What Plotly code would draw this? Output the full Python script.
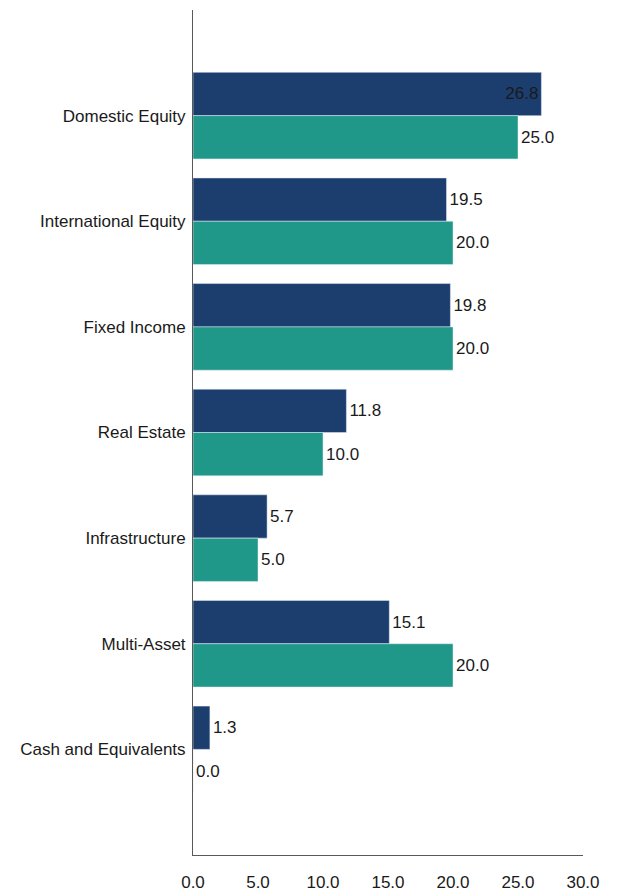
import plotly.graph_objects as go

categories = ["Domestic Equity", "International Equity", "Fixed Income", "Real Estate",
              "Infrastructure", "Multi-Asset", "Cash and Equivalents"]
actual = [26.8, 19.5, 19.8, 11.8, 5.7, 15.1, 1.3]
target = [25.0, 20.0, 20.0, 10.0, 5.0, 20.0, 0.0]
tick_vals = [0, 5, 10, 15, 20, 25, 30]
tick_text = ["0.0", "5.0", "10.0", "15.0", "20.0", "25.0", "30.0"]

navy = "#1B3E6F"
teal = "#1F988A"
font = "Liberation Sans, Arial, sans-serif"
fs = 17

fig = go.Figure()
fig.add_trace(go.Bar(
    y=categories, x=actual, orientation="h", marker_color=navy,
    text=[f"{v:.1f}" for v in actual],
    textposition=["inside"] + ["outside"] * (len(actual) - 1),
    insidetextanchor="end",
    textfont=dict(color="#1a1a1a", size=fs, family=font),
    cliponaxis=False, showlegend=False,
))
fig.add_trace(go.Bar(
    y=categories, x=target, orientation="h", marker_color=teal,
    text=[f"{v:.1f}" for v in target], textposition="outside",
    textfont=dict(color="#1a1a1a", size=fs, family=font),
    cliponaxis=False, showlegend=False,
))

fig.update_layout(
    width=614, height=886,
    margin=dict(l=185, r=39, t=2, b=30),
    barmode="group", bargap=0.18, bargroupgap=0,
    plot_bgcolor="white", paper_bgcolor="white",
    font=dict(family=font, size=fs, color="#1a1a1a"),
    uniformtext=dict(mode=False),
)
fig.update_xaxes(
    range=[0, 30], tickvals=tick_vals, ticktext=tick_text,
    showgrid=False, zeroline=False, showline=True, linecolor="#595959", linewidth=1,
    ticks="", ticklabelstandoff=12, tickfont=dict(size=fs, color="#1a1a1a"),
)
fig.update_yaxes(
    categoryorder="array", categoryarray=categories, range=[7, -1],
    showgrid=False, zeroline=False, showline=True, linecolor="#595959", linewidth=1,
    ticks="", ticklabelstandoff=3, tickfont=dict(size=fs, color="#1a1a1a"),
)

fig.write_html("out.html")
